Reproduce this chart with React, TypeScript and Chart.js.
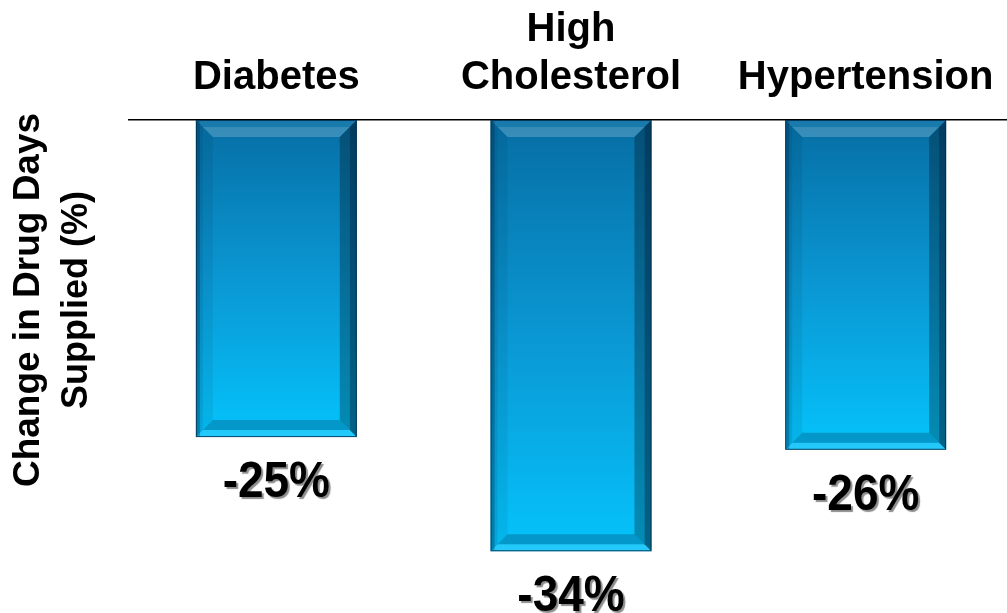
import React, { useEffect, useRef } from "react";
import { Chart, registerables } from "chart.js";

Chart.register(...registerables);

const categories: (string | string[])[] = ["Diabetes", ["High", "Cholesterol"], "Hypertension"];
const changePct: number[] = [-25, -34, -26];
const valueLabels: string[] = ["-25%", "-34%", "-26%"];
const yTitleLines: string[] = ["Change in Drug Days", "Supplied (%)"];

const FONT = '"Liberation Sans", Arial, Helvetica, sans-serif';

function poly(c: CanvasRenderingContext2D, pts: number[][], fill: string) {
  c.beginPath();
  c.moveTo(pts[0][0], pts[0][1]);
  for (let i = 1; i < pts.length; i++) c.lineTo(pts[i][0], pts[i][1]);
  c.closePath();
  c.fillStyle = fill;
  c.fill();
}

const bevelPlugin = {
  id: "bevel",
  afterDatasetsDraw(chart: any) {
    const c: CanvasRenderingContext2D = chart.ctx;
    const meta = chart.getDatasetMeta(0);
    meta.data.forEach((el: any) => {
      const p = el.getProps(["x", "y", "base", "width"], true);
      const L = p.x - p.width / 2;
      const R = p.x + p.width / 2;
      const T = Math.min(p.y, p.base);
      const B = Math.max(p.y, p.base);
      const f = 7;
      const b = 10;
      c.save();
      // outer frame
      poly(c, [[L, T], [R, T], [R - f, T + f], [L + f, T + f]], "rgba(255,255,255,0.08)");
      poly(c, [[L, T], [L + f, T + f], [L + f, B - f], [L, B]], "rgba(0,40,70,0.18)");
      poly(c, [[R, T], [R, B], [R - f, B - f], [R - f, T + f]], "rgba(0,20,40,0.55)");
      poly(c, [[L, B], [L + f, B - f], [R - f, B - f], [R, B]], "rgba(255,255,255,0.12)");
      // inner bevel
      const l2 = L + f, r2 = R - f, t2 = T + f, b2 = B - f;
      poly(c, [[l2, t2], [r2, t2], [r2 - b, t2 + b], [l2 + b, t2 + b]], "rgba(255,255,255,0.2)");
      poly(c, [[l2, t2], [l2 + b, t2 + b], [l2 + b, b2 - b], [l2, b2]], "rgba(0,0,0,0.06)");
      poly(c, [[r2, t2], [r2, b2], [r2 - b, b2 - b], [r2 - b, t2 + b]], "rgba(0,0,0,0.28)");
      poly(c, [[l2, b2], [l2 + b, b2 - b], [r2 - b, b2 - b], [r2, b2]], "rgba(0,30,60,0.25)");
      // dark strip near left edge
      c.fillStyle = "rgba(0,40,70,0.3)";
      c.fillRect(L + 1, T + 1, 3, B - T - 2);
      // outline
      c.strokeStyle = "rgba(0,45,75,0.85)";
      c.lineWidth = 1;
      c.strokeRect(L + 0.5, T + 0.5, R - L - 1, B - T - 1);
      c.restore();
    });
  },
};

const valueLabelPlugin = {
  id: "valueLabels",
  afterDatasetsDraw(chart: any) {
    const c: CanvasRenderingContext2D = chart.ctx;
    const meta = chart.getDatasetMeta(0);
    c.save();
    c.font = `bold 46px ${FONT}`;
    c.textAlign = "center";
    c.textBaseline = "alphabetic";
    meta.data.forEach((el: any, i: number) => {
      const p = el.getProps(["x", "y", "base"], true);
      const B = Math.max(p.y, p.base);
      c.save();
      c.translate(p.x, B + 60);
      c.scale(1, 1.1);
      c.shadowColor = "rgba(0,0,0,0.45)";
      c.shadowOffsetX = 2;
      c.shadowOffsetY = 2;
      c.shadowBlur = 1;
      c.fillStyle = "#000";
      c.fillText(valueLabels[i], 0, 0);
      c.restore();
    });
    c.restore();
  },
};

const yTitlePlugin = {
  id: "yTitle",
  afterDraw(chart: any) {
    const c: CanvasRenderingContext2D = chart.ctx;
    const baselines = [39, 87];
    const sizes = [37, 36];
    c.save();
    c.fillStyle = "#000";
    c.textAlign = "center";
    c.textBaseline = "alphabetic";
    yTitleLines.forEach((line, i) => {
      c.save();
      c.translate(baselines[i], 300);
      c.rotate(-Math.PI / 2);
      c.font = `bold ${sizes[i]}px ${FONT}`;
      c.fillText(line, 0, 0);
      c.restore();
    });
    c.restore();
  },
};

export default function App() {
  const ref = useRef<HTMLCanvasElement | null>(null);

  useEffect(() => {
    if (!ref.current) return;
    const chart = new Chart(ref.current, {
      type: "bar",
      data: {
        labels: categories as any,
        datasets: [
          {
            data: changePct,
            borderWidth: 0,
            categoryPercentage: 1,
            barPercentage: 0.546,
            backgroundColor: (ctx: any) => {
              const ch = ctx.chart;
              if (!ch.chartArea || !ch.scales || !ch.scales.y) return "#0a90d0";
              const v = changePct[ctx.dataIndex] ?? 0;
              const y0 = ch.scales.y.getPixelForValue(0);
              const y1 = ch.scales.y.getPixelForValue(v);
              const g = ch.ctx.createLinearGradient(0, y0, 0, y1);
              g.addColorStop(0, "#066ea4");
              g.addColorStop(0.5, "#0a97d3");
              g.addColorStop(1, "#05c3fb");
              return g;
            },
          },
        ],
      },
      options: {
        animation: false,
        responsive: false,
        maintainAspectRatio: false,
        layout: { padding: { left: 129, right: 0, top: 0, bottom: 11 } },
        plugins: { legend: { display: false }, tooltip: { enabled: false } },
        scales: {
          x: {
            position: "top",
            grid: { display: false, drawTicks: false },
            border: { display: true, color: "#000", width: 1.5 },
            ticks: {
              color: "#000",
              font: { family: FONT, size: 40, weight: "bold" },
              padding: 18,
              maxRotation: 0,
              autoSkip: false,
            },
            afterFit: (s: any) => {
              s.height = 120;
            },
          },
          y: { display: false, min: -38, max: 0 },
        },
      },
      plugins: [bevelPlugin, valueLabelPlugin, yTitlePlugin],
    } as any);
    return () => chart.destroy();
  }, []);

  return (
    <div
      style={{
        position: "fixed",
        left: 0,
        top: 0,
        width: 1007,
        height: 613,
        overflow: "hidden",
        background: "#fff",
      }}
    >
      <canvas ref={ref} width={1013} height={613} style={{ display: "block", width: 1013, height: 613 }} />
    </div>
  );
}
